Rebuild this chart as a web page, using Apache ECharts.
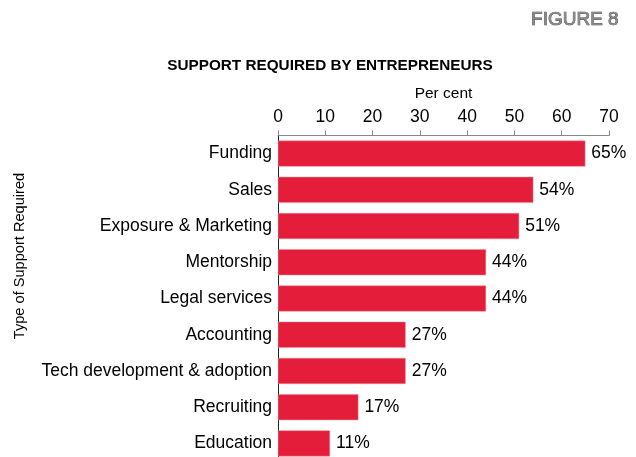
<!DOCTYPE html>
<html>
<head>
<meta charset="utf-8">
<script src="https://cdn.jsdelivr.net/npm/echarts@6/dist/echarts.min.js"></script>
<style>
  html, body { margin: 0; padding: 0; background: #fff; }
  #chart { width: 636px; height: 457px; }
</style>
</head>
<body>
<div id="chart"></div>
<script>
// Support types, listed top to bottom
const categories = [
  'Funding', 'Sales', 'Exposure & Marketing', 'Mentorship', 'Legal services',
  'Accounting', 'Tech development & adoption', 'Recruiting', 'Education'
];
// Share of entrepreneurs needing each kind of support (per cent)
const percentages = [65, 54, 51, 44, 44, 27, 27, 17, 11];
// Top axis ticks
const axisTicks = [0, 10, 20, 30, 40, 50, 60, 70];

const FONT = '"Liberation Sans", Arial, sans-serif';
const chart = echarts.init(document.getElementById('chart'));

chart.setOption({
  animation: false,
  textStyle: { fontFamily: FONT },
  title: {
    text: 'SUPPORT REQUIRED BY ENTREPRENEURS',
    left: 325, top: 53, textAlign: 'center',
    textStyle: { fontFamily: FONT, fontSize: 15.3, fontWeight: 'bold', color: '#000' }
  },
  graphic: [
    {
      type: 'text', right: 17, top: 10,
      style: {
        text: 'FIGURE 8', fontFamily: FONT, fontSize: 19,
        fill: '#8a8a8a', stroke: '#3a3a3a', lineWidth: 0.7
      }
    },
    {
      type: 'text', x: 20, y: 256, rotation: Math.PI / 2,
      style: {
        text: 'Type of Support Required', fontFamily: FONT, fontSize: 14.6,
        fill: '#000', align: 'center', verticalAlign: 'middle'
      }
    }
  ],
  // the last row runs past the lower edge, so the grid may extend off-canvas
  grid: {
    left: 278, right: 27, top: 135.5, height: 326,
    containLabel: false, outerBoundsMode: 'none'
  },
  xAxis: {
    type: 'value', position: 'top',
    min: axisTicks[0], max: axisTicks[axisTicks.length - 1], interval: 10,
    name: 'Per cent', nameLocation: 'middle', nameGap: 34,
    nameTextStyle: { fontFamily: FONT, fontSize: 15.5, color: '#000' },
    axisLine: { show: true, lineStyle: { color: '#888', width: 1 } },
    axisTick: { show: true, length: 5, lineStyle: { color: '#888' } },
    axisLabel: { fontFamily: FONT, fontSize: 17.5, color: '#000', margin: 9 },
    splitLine: { show: false }
  },
  yAxis: {
    type: 'category', inverse: true, data: categories,
    axisLine: { show: true, lineStyle: { color: '#222', width: 1 } },
    axisTick: { show: false },
    axisLabel: { fontFamily: FONT, fontSize: 17.5, color: '#000', margin: 6 }
  },
  series: [{
    type: 'bar', data: percentages, barWidth: 26,
    itemStyle: { color: '#e41e3a', borderColor: '#f08a98', borderWidth: 0.5 },
    label: {
      show: true, position: 'right', distance: 6,
      formatter: p => p.value + '%',
      fontFamily: FONT, fontSize: 17.5, color: '#000'
    }
  }]
});
</script>
</body>
</html>
